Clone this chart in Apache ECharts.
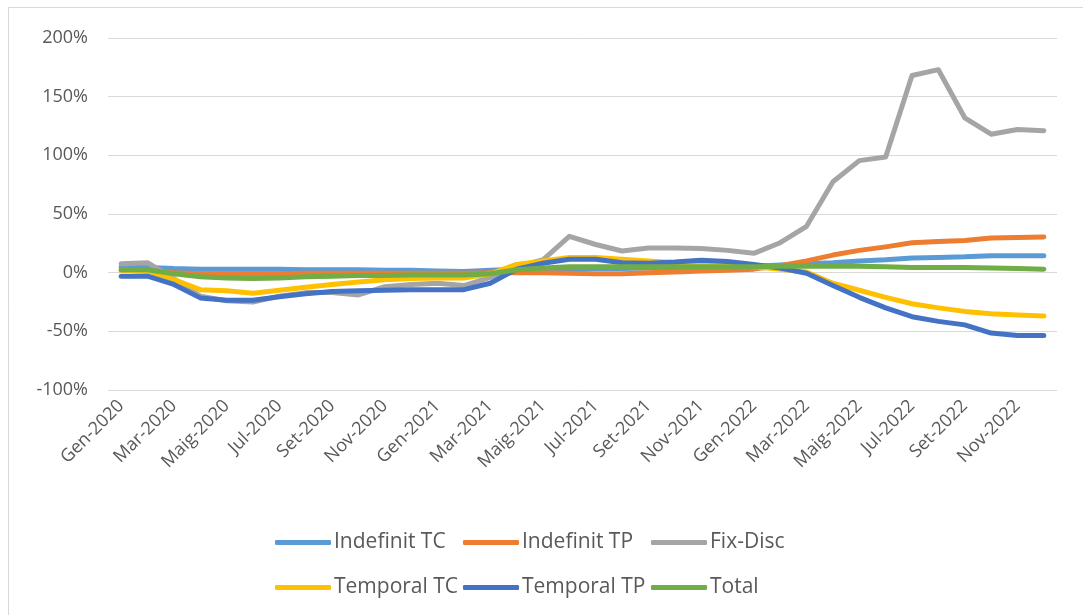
<!DOCTYPE html>
<html>
<head>
<meta charset="utf-8">
<script src="https://cdn.jsdelivr.net/npm/echarts@6/dist/echarts.min.js"></script>
<style>
  html, body { margin: 0; padding: 0; background: #fff; }
  #chart { width: 1083px; height: 615px; }
</style>
</head>
<body>
<div id="chart"></div>
<script>
// categories: monthly, Gen-2020 .. Des-2022
const months = ['Gen', 'Febr', 'Mar', 'Abr', 'Maig', 'Juny', 'Jul', 'Ag', 'Set', 'Oct', 'Nov', 'Des']
const years = ['2020', '2021', '2022']
const categories = []
years.forEach(y => months.forEach(m => categories.push(m + '-' + y)))

// variació (%)
const indefinitTC = [5, 4.5, 3.5, 3, 3, 3, 3, 2.5, 2.5, 2.5, 2, 2, 1.5, 1, 2, 3, 3.5, 3.5, 3.5, 3.5, 4, 4, 4.5, 5, 5.5, 6.5, 7.5, 8.5, 10, 11, 12.5, 13, 13.5, 14.5, 14.5, 14.5]
const indefinitTP = [2, 1.5, 0, -1, -1, -1, -1, -0.5, -0.5, -0.5, -0.5, -0.5, -0.5, -0.5, 0, 0, 0, -0.5, -1, -1, 0, 0.5, 1.5, 2, 3, 6, 10, 15, 19, 22, 25.5, 26.5, 27.5, 29.5, 30, 30.5]
const fixDisc = [7.5, 8.5, -5, -20, -24, -25, -20, -17, -17, -19, -12, -10, -9, -11, -4, 5, 11, 31, 24, 18.5, 21, 21, 20.5, 19, 16.5, 25.5, 39.5, 77.5, 95.5, 98.5, 168, 173, 132, 118, 122, 121]
const temporalTC = [2, 1.5, -6, -14.5, -15.5, -17.5, -15, -12.5, -10, -8, -6, -5, -4.5, -4.5, -1, 7, 10, 13, 13, 11.5, 10, 8.5, 7.5, 6.5, 5, 3, 0.5, -9, -15, -21, -26.5, -30, -33, -35, -36, -37]
const temporalTP = [-3, -3, -10, -21.5, -23.5, -23.5, -20.5, -18, -16, -15.5, -15, -14.5, -14.5, -14.5, -9, 3, 8, 11.5, 11.5, 8.5, 8, 9, 10.5, 9.5, 7, 4, -0.5, -11, -21, -30, -37.5, -41.5, -44.5, -51.5, -53.5, -53.5]
const total = [2.5, 2.5, -1, -3.5, -4.5, -5, -4.5, -3.5, -3, -2.5, -2.5, -2, -2, -2, -1, 2.5, 4, 5, 5, 5, 5, 5, 5, 5, 5, 5.5, 5.5, 5.5, 5.5, 5, 4.5, 4.5, 4.5, 4, 3.5, 3]

const names = ['Indefinit TC', 'Indefinit TP', 'Fix-Disc', 'Temporal TC', 'Temporal TP', 'Total']
const values = [indefinitTC, indefinitTP, fixDisc, temporalTC, temporalTP, total]
const colors = ['#5B9BD5', '#ED7D31', '#A5A5A5', '#FFC000', '#4472C4', '#70AD47']

const font = 'Open Sans'

// Excel-style legend: 3 fixed-width columns, 2 rows
function legendItem(name, i) {
  return {
    data: [name],
    left: 275 + (i % 3) * 188,
    top: i < 3 ? 532 : 577,
    padding: 0,
    icon: 'roundRect',
    itemWidth: 56,
    itemHeight: 5,
    textStyle: {
      fontFamily: font,
      fontSize: 21,
      color: '#595959',
      padding: [0, 0, 0, -2]
    }
  }
}

const chart = echarts.init(document.getElementById('chart'))
chart.setOption({
  animation: false,
  color: colors,
  graphic: [{
    type: 'rect',
    shape: { x: 8.5, y: 7.5, width: 1200, height: 800 },
    style: { fill: 'none', stroke: '#D9D9D9', lineWidth: 1 },
    silent: true
  }],
  grid: { left: 108, right: 26, top: 38, bottom: 225 },
  legend: names.map(legendItem),
  xAxis: {
    type: 'category',
    data: categories,
    boundaryGap: true,
    axisLine: { show: false },
    axisTick: { show: false },
    axisLabel: {
      interval: 1,
      rotate: 45,
      margin: 13,
      fontFamily: font,
      fontSize: 18,
      color: '#595959'
    }
  },
  yAxis: {
    type: 'value',
    min: -100,
    max: 200,
    interval: 50,
    axisLine: { show: false },
    axisTick: { show: false },
    splitLine: { lineStyle: { color: '#D9D9D9', width: 1 } },
    axisLabel: {
      formatter: '{value}%',
      margin: 20,
      fontFamily: font,
      fontSize: 18,
      color: '#595959'
    }
  },
  series: names.map((n, i) => ({
    name: n,
    type: 'line',
    data: values[i],
    symbol: 'none',
    lineStyle: { width: 5, cap: 'round', join: 'round' }
  }))
})
</script>
</body>
</html>
